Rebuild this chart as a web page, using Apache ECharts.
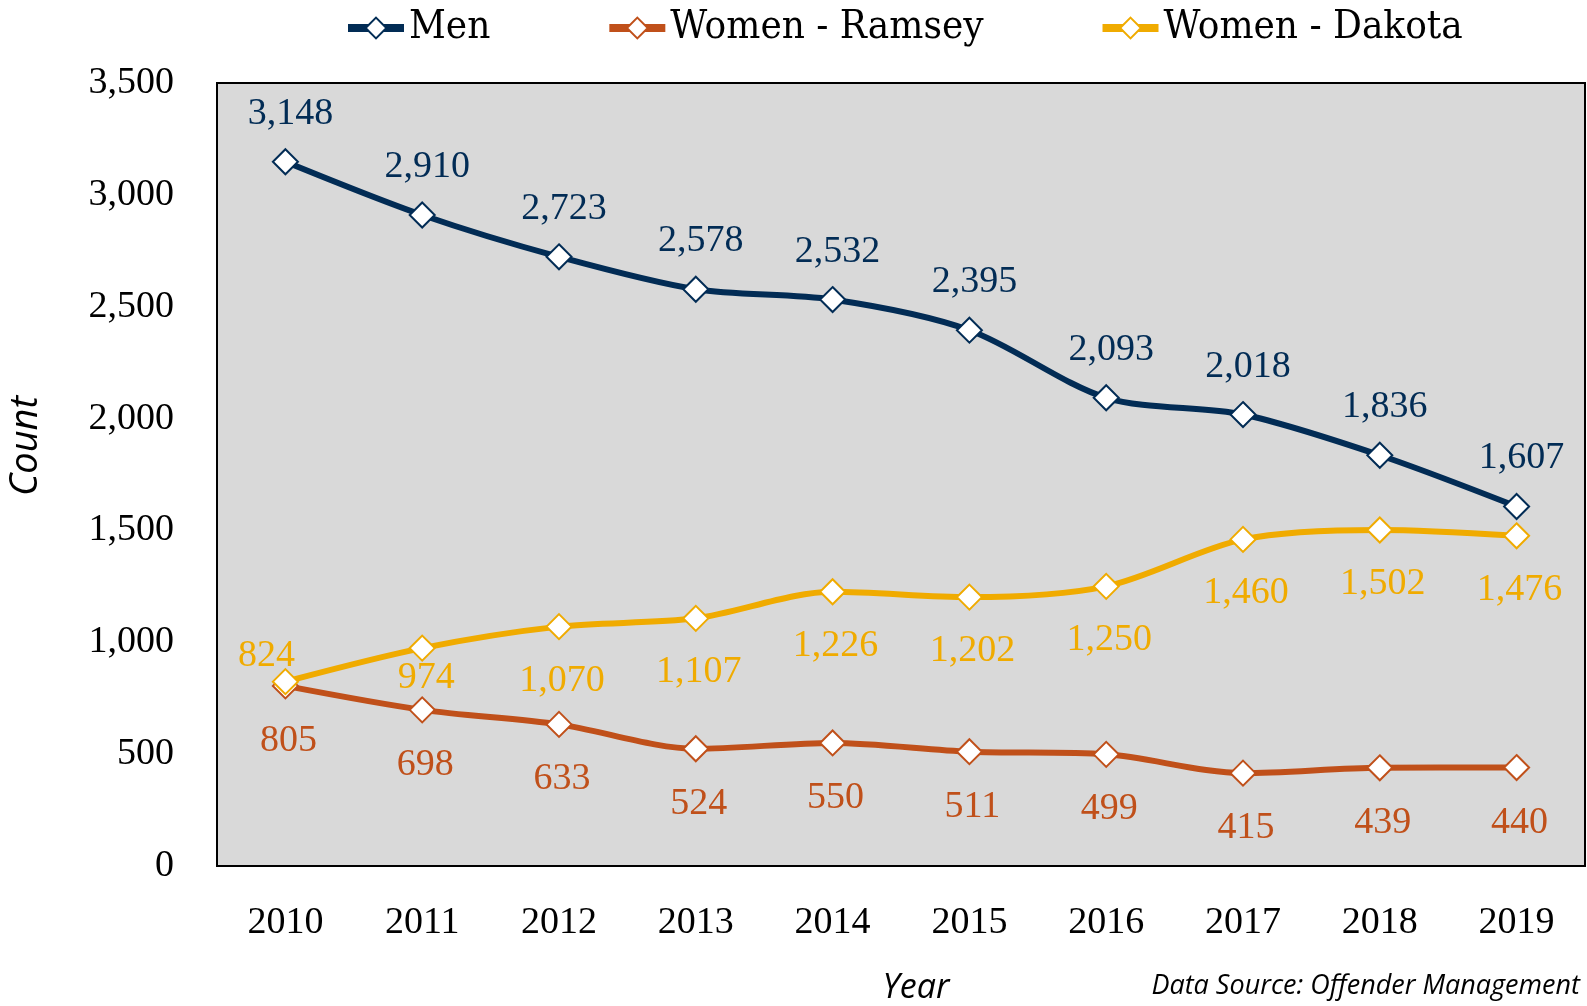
<!DOCTYPE html>
<html>
<head>
<meta charset="utf-8">
<script src="https://cdn.jsdelivr.net/npm/echarts@6/dist/echarts.min.js"></script>
<style>
html,body{margin:0;padding:0;background:#fff;}
#chart{width:1587px;height:1006px;}
</style>
</head>
<body>
<div id="chart"></div>
<script>
const years = ['2010','2011','2012','2013','2014','2015','2016','2017','2018','2019'];
const men = [3148, 2910, 2723, 2578, 2532, 2395, 2093, 2018, 1836, 1607];
const womenRamsey = [805, 698, 633, 524, 550, 511, 499, 415, 439, 440];
const womenDakota = [824, 974, 1070, 1107, 1226, 1202, 1250, 1460, 1502, 1476];
const yTicks = [0, 500, 1000, 1500, 2000, 2500, 3000, 3500];

const numFont = '"Liberation Serif", "DejaVu Serif", serif';
const C_MEN = '#022C55';
const C_RAM = '#C0501A';
const C_DAK = '#F0AB00';
const fmt = v => Number(v).toLocaleString('en-US');

function mkData(values, override) {
  return values.map((v, i) => {
    if (override && override[i]) {
      return { value: v, label: { offset: override[i] } };
    }
    return v;
  });
}

function mkSeries(name, values, color, offset, override) {
  return {
    name: name,
    type: 'line',
    data: mkData(values, override),
    smooth: 0.3,
    symbol: 'diamond',
    symbolSize: 25,
    lineStyle: { color: color, width: 6 },
    itemStyle: { color: '#fff', borderColor: color, borderWidth: 2 },
    label: {
      show: true,
      position: 'inside',
      offset: offset,
      color: color,
      fontFamily: numFont,
      fontSize: 38,
      formatter: p => fmt(p.value)
    },
    emphasis: { disabled: true },
    animation: false
  };
}

const chart = echarts.init(document.getElementById('chart'));
chart.setOption({
  backgroundColor: '#ffffff',
  animation: false,
  legend: {
    left: 339,
    top: 3,
    itemWidth: 56,
    itemHeight: 26,
    itemGap: 115,
    lineStyle: { width: 8 },
    textStyle: {
      fontFamily: '"DejaVu Serif Condensed", "DejaVu Serif", serif',
      fontSize: 40,
      color: '#000'
    },
    data: ['Men', 'Women - Ramsey', 'Women - Dakota']
  },
  grid: {
    left: 217, right: 2, top: 83, bottom: 140,
    show: true,
    backgroundColor: '#D9D9D9',
    borderColor: '#000',
    borderWidth: 2
  },
  xAxis: {
    type: 'category',
    data: years,
    boundaryGap: true,
    axisLine: { show: false },
    axisTick: { show: false },
    axisLabel: { color: '#000', fontFamily: numFont, fontSize: 38, margin: 38 }
  },
  yAxis: {
    type: 'value',
    min: yTicks[0],
    max: yTicks[yTicks.length - 1],
    interval: 500,
    axisLine: { show: false },
    axisTick: { show: false },
    splitLine: { show: false },
    axisLabel: { color: '#000', fontFamily: numFont, fontSize: 38, margin: 43, formatter: v => fmt(v) }
  },
  graphic: [
    {
      type: 'text',
      rotation: Math.PI / 2,
      position: [26, 446],
      style: { text: 'Count', font: 'italic 38px "Open Sans", "Noto Sans", sans-serif', fill: '#000', textAlign: 'center', textVerticalAlign: 'middle' }
    },
    {
      type: 'text',
      style: { text: 'Year', x: 916, y: 988, font: 'italic 34px "Open Sans", "Noto Sans", sans-serif', fill: '#000', textAlign: 'center', textVerticalAlign: 'middle' }
    },
    {
      type: 'text',
      style: { text: 'Data Source: Offender Management', x: 1580, y: 986, font: 'italic 27px "Open Sans", "Noto Sans", sans-serif', fill: '#000', textAlign: 'right', textVerticalAlign: 'middle' }
    }
  ],
  series: [
    mkSeries('Men', men, C_MEN, [5, -48]),
    mkSeries('Women - Ramsey', womenRamsey, C_RAM, [3, 55]),
    mkSeries('Women - Dakota', womenDakota, C_DAK, [3, 54], { 0: [-19, -26], 1: [4, 30] })
  ]
});
</script>
</body>
</html>
